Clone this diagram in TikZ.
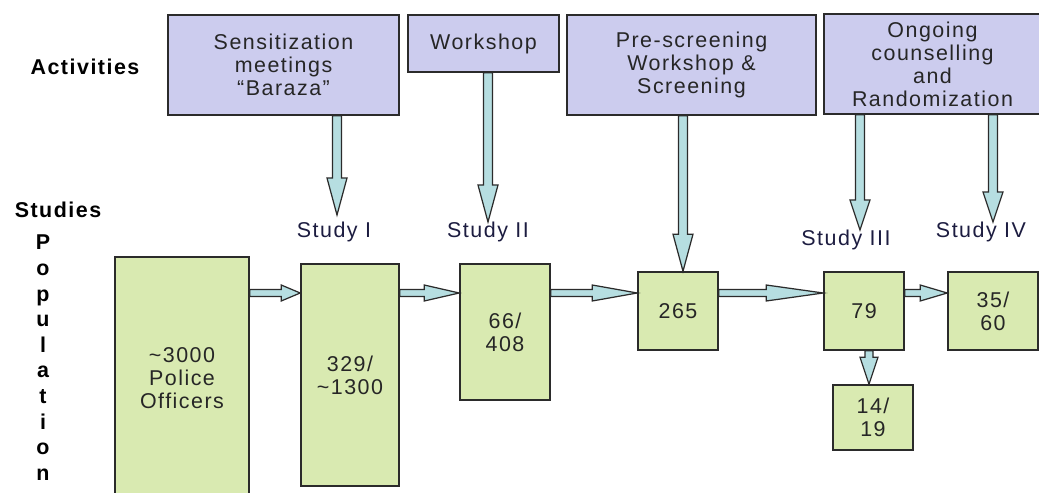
\documentclass[tikz,border=0pt]{standalone}
\usepackage{fontspec}
\setmainfont{Liberation Sans}[LetterSpace=7]
\usetikzlibrary{calc}

\definecolor{actfill}{HTML}{CCCCEE}
\definecolor{popfill}{HTML}{D9EAB1}
\definecolor{arrowfill}{HTML}{B6DEE1}
\definecolor{edge}{HTML}{2B2B2B}
\definecolor{labeltext}{HTML}{1C1C40}

\newcommand{\px}{0.569pt}

\tikzset{
  act/.style={draw=edge, fill=actfill, line width=0.9pt, align=center, inner sep=0pt, text=black!85},
  pop/.style={draw=edge, fill=popfill, line width=0.9pt, align=center, inner sep=0pt, text=black!85,
    minimum width=1.6cm, minimum height=1.56cm},
  heading/.style={font=\fontsize{12.2}{13.1}\selectfont\bfseries},
  studylabel/.style={anchor=north, inner sep=0pt, text=labeltext},
  fatarrow/.style={draw=edge, fill=arrowfill, line width=0.7pt, line join=miter}
}

% block arrow: start, end, head length, shaft half width, head half width (px)
\newcommand{\fatarrow}[5]{%
  \path[fatarrow] let \p1=(#1), \p2=(#2), \n1={atan2(\y2-\y1,\x2-\x1)} in
    ($(\p1)+(\n1+90:{#4*\px})$)
    -- ($(\p2)+(\n1+180:{#3*\px})+(\n1+90:{#4*\px})$)
    -- ($(\p2)+(\n1+180:{#3*\px})+(\n1+90:{#5*\px})$)
    -- (\p2)
    -- ($(\p2)+(\n1+180:{#3*\px})+(\n1-90:{#5*\px})$)
    -- ($(\p2)+(\n1+180:{#3*\px})+(\n1-90:{#4*\px})$)
    -- ($(\p1)+(\n1-90:{#4*\px})$) -- cycle;}

\begin{document}
\begin{tikzpicture}[x=0.02cm, y=-0.02cm, every node/.style={font=\fontsize{12.2}{13.1}\selectfont}]
\useasboundingbox (0,0) rectangle (1039,493);

% activities
\node[heading] (acts) at (85,67) {Activities};
\node[act, minimum width=4.62cm, minimum height=2cm] (a1) at (283.5,65) {Sensitization\\meetings\\“Baraza”};
\node[act, minimum width=3.02cm, minimum height=1.14cm] (a2) at (483.5,43.5) {Workshop};
\node[act, minimum width=4.98cm, minimum height=2cm] (a3) at (691.5,65) {Pre-screening\\Workshop \&\\Screening};
\node[act, minimum width=4.34cm, minimum height=2cm] (a4) at (932.5,64) {Ongoing\\counselling\\and\\Randomization};

% studies
\node[heading] (studs) at (58,210) {Studies};
\node[studylabel] (s1) at (334,222) {Study I};
\node[studylabel] (s2) at (488,222) {Study II};
\node[studylabel] (s3) at (846,230) {Study III};
\node[studylabel] (s4) at (981,222) {Study IV};

% population, one letter per line
\foreach \ch [count=\i] in {P,o,p,u,l,a,t,i,o,n}
  \node[heading, anchor=base, inner sep=0pt] (pl\i) at (43,{250+25.6*(\i-1)}) {\ch};

\node[pop, minimum width=2.68cm, minimum height=4.86cm] (b0) at (182,378.5) {\textasciitilde3000\\Police\\Officers};
\node[pop, minimum width=1.96cm, minimum height=4.44cm] (b1) at (350,375) {329/\\\textasciitilde1300};
\node[pop, minimum width=1.8cm, minimum height=2.72cm] (b2) at (505,332) {66/\\408};
\node[pop] (b3) at (678,311) {265};
\node[pop] (b4) at (864,311) {79};
\node[pop, minimum width=1.8cm] (b5) at (993,311) {35/\\60};
\node[pop, minimum height=1.3cm] (b6) at (873,417.5) {14/\\19};

% arrows
\coordinate (row) at (0,293);
\coordinate (drop) at (869,0);
\coordinate (t1) at (337,215);
\coordinate (t2) at (488,222);
\coordinate (t3) at (683,0);
\coordinate (t4) at (860,230);
\coordinate (t5) at (993,222);

\fatarrow{b0.east |- row}{b1.west |- row}{19}{3.5}{8}
\fatarrow{b1.east |- row}{b2.west |- row}{35}{3.5}{8}
\fatarrow{b2.east |- row}{b3.west |- row}{45}{3.5}{8}
\fatarrow{b3.east |- row}{b4.west |- row}{57}{3.5}{8}
\fatarrow{b4.east |- row}{b5.west |- row}{27}{3.5}{8}
\fatarrow{b4.south -| drop}{b6.north -| drop}{27}{4}{9}

\fatarrow{a1.south -| t1}{t1}{37}{4.5}{10}
\fatarrow{a2.south -| t2}{t2}{37}{4.5}{10}
\fatarrow{a3.south -| t3}{b3.north -| t3}{37}{4.5}{10}
\fatarrow{a4.south -| t4}{t4}{30}{4.5}{10}
\fatarrow{a4.south -| t5}{t5}{30}{4.5}{10}
\end{tikzpicture}
\end{document}
